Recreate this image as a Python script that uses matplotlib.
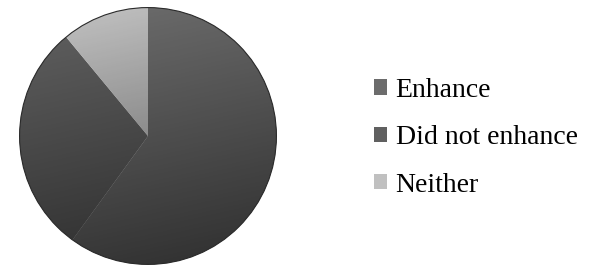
import numpy as np
import matplotlib
matplotlib.use("Agg")
import matplotlib.pyplot as plt
from matplotlib.patches import Circle

labels = ["Enhance", "Did not enhance", "Neither"]
shares = [60, 29, 11]  # percent
colors = ["#6c6c6c", "#606060", "#c0c0c0"]

plt.rcParams["font.family"] = ["Liberation Serif", "DejaVu Serif"]

fig = plt.figure(figsize=(5.98, 2.74), dpi=100)
ax = fig.add_axes([17 / 598, 7 / 274, 262 / 598, 262 / 274])

wedges, _ = ax.pie(shares, colors=colors, startangle=90, counterclock=False,
                   radius=1, wedgeprops=dict(linewidth=0))

# darker shading towards the bottom of the pie
yy, xx = np.mgrid[1:-1:200j, -1:1:200j]
shade = np.clip(0.5 - 0.45 * yy + 0.1 * xx, 0, 1) * 0.55
img = np.zeros((200, 200, 4))
img[..., 3] = shade
im = ax.imshow(img, extent=(-1, 1, -1, 1), zorder=3)
clip = Circle((0, 0), 1, transform=ax.transData)
im.set_clip_path(clip)
ax.add_patch(Circle((0, 0), 1, fill=False, ec="#2a2a2a", lw=0.8, zorder=4))

ax.set_xlim(-1.02, 1.02)
ax.set_ylim(-1.02, 1.02)
ax.set_aspect("equal")
ax.axis("off")

fig.legend(wedges, labels, loc="center left", bbox_to_anchor=(374 / 598, 0.497),
           frameon=False, fontsize=20, handlelength=0.48, handleheight=0.48,
           handletextpad=0.3, labelspacing=0.8, borderpad=0, borderaxespad=0)

fig.savefig("out.png", dpi=100)
